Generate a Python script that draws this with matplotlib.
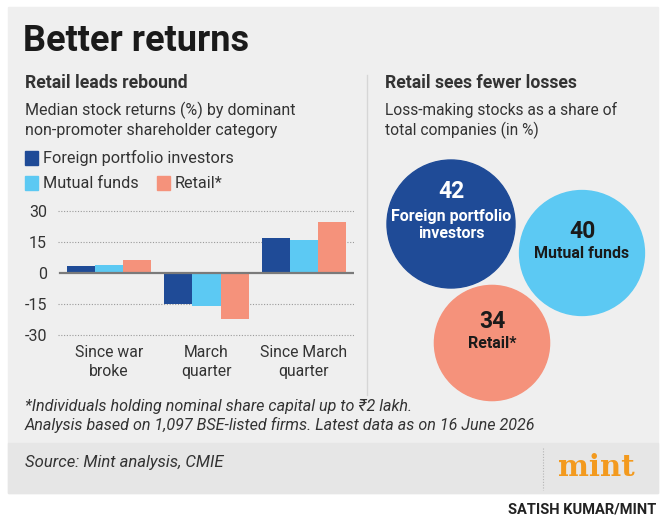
import matplotlib
matplotlib.use("Agg")
import matplotlib.pyplot as plt
import numpy as np
from matplotlib.patches import Rectangle, Circle

# bar chart data (median returns, %)
categories = ["Since war\nbroke", "March\nquarter", "Since March\nquarter"]
fpi_returns = [3.3, -14.8, 16.8]
mf_returns = [3.8, -16.0, 15.8]
retail_returns = [6.1, -22.2, 24.9]
series_names = ["Foreign portfolio investors", "Mutual funds", "Retail*"]
y_ticks = [-30, -15, 0, 15, 30]

# bubble data (loss-making stocks, % of companies)
loss_labels = ["Foreign portfolio\ninvestors", "Mutual funds", "Retail*"]
loss_share = [42, 40, 34]

DARK_BLUE = "#1f4b97"
LIGHT_BLUE = "#5cc9f3"
SALMON = "#f5927b"
TEXT = "#333333"

plt.rcParams['font.family'] = ['Roboto', 'DejaVu Sans']

W, H = 670, 526
fig = plt.figure(figsize=(W / 100, H / 100), dpi=100)
fig.patch.set_facecolor("white")

# background axes in pixel coords (y down)
bg = fig.add_axes([0, 0, 1, 1])
bg.set_xlim(0, W)
bg.set_ylim(H, 0)
bg.axis("off")

bg.add_patch(Rectangle((8, 7), 650, 486, color="#efefef", zorder=0))
bg.add_patch(Rectangle((8, 443), 650, 50, color="#e6e6e6", zorder=0))
bg.plot([367, 367], [75, 395], color="#d6d6d6", lw=1)
bg.plot([543, 543], [448, 490], color="#b5b5b5", lw=0.8, ls=(0, (1, 1.5)))

def txt(x, y, s, **kw):
    kw.setdefault("va", "center")
    kw.setdefault("color", TEXT)
    bg.text(x, y, s, **kw)

txt(23, 41, "Better returns", fontsize=26, weight="bold", color="#1a1a1a")
txt(25, 83, "Retail leads rebound", fontsize=12.7, weight="bold")
txt(25, 110, "Median stock returns (%) by dominant", fontsize=11.5)
txt(25, 130, "non-promoter shareholder category", fontsize=11.5)
txt(385, 83, "Retail sees fewer losses", fontsize=12.7, weight="bold")
txt(385, 110, "Loss-making stocks as a share of", fontsize=11.2)
txt(385, 130, "total companies (in %)", fontsize=11.2)

# legend
legend_pos = [(25, 158), (25, 183), (157, 183)]
for (lx, ly), name, c in zip(legend_pos, series_names, [DARK_BLUE, LIGHT_BLUE, SALMON]):
    bg.add_patch(Rectangle((lx, ly - 7), 13, 14, color=c))
    txt(lx + 18, ly, name, fontsize=11.7)

# footnotes
txt(25, 406, "*Individuals holding nominal share capital up to \u20b92 lakh.",
    fontsize=11.6, style="italic")
txt(25, 425, "Analysis based on 1,097 BSE-listed firms. Latest data as on 16 June 2026",
    fontsize=11.6, style="italic")
txt(25, 462, "Source: Mint analysis, CMIE", fontsize=12, style="italic")
txt(596, 467, "mint", fontsize=21, weight="bold", family="DejaVu Serif",
    color="#f39a1e", ha="center")
txt(656, 509, "SATISH KUMAR/MINT", fontsize=10.5, weight="bold", ha="right",
    color="#222222")

# bubbles, area proportional to value
k = 64 / np.sqrt(max(loss_share))
centers = [(451, 224), (582, 253), (492, 343)]
fills = [DARK_BLUE, LIGHT_BLUE, SALMON]
txt_colors = ["white", "#1a1a1a", "#1a1a1a"]
for (cx, cy), v, lab, fc, tc in zip(centers, loss_share, loss_labels, fills, txt_colors):
    bg.add_patch(Circle((cx, cy), k * np.sqrt(v), color=fc, zorder=2))
    nlines = lab.count("\n") + 1
    top = cy - 10 * nlines
    bg.text(cx, top - 12, str(v), ha="center", va="center", fontsize=16.5,
            weight="bold", color=tc, zorder=3)
    bg.text(cx, top + 10 * nlines + 1, lab, ha="center", va="center", fontsize=11.5,
            weight="bold", color=tc, linespacing=1.2, zorder=3)

# bar chart
ax = fig.add_axes([58 / W, 1 - 337.1 / H, 296 / W, 128.2 / H])
ax.patch.set_alpha(0)
x = np.arange(len(categories))
w = 0.29
ax.bar(x - w, fpi_returns, w, color=DARK_BLUE, zorder=2)
ax.bar(x, mf_returns, w, color=LIGHT_BLUE, zorder=2)
ax.bar(x + w, retail_returns, w, color=SALMON, zorder=2)
for t in y_ticks:
    if t != 0:
        ax.axhline(t, color="#9a9a9a", lw=0.8, ls=(0, (1, 1.5)), zorder=1)
ax.axhline(0, xmin=0.007, color="#7a7a7a", lw=1.6, zorder=3)
ax.set_xlim(-0.523, 2.513)
ax.set_ylim(-31, 31)
ax.set_yticks(y_ticks)
ax.set_yticklabels([str(t) for t in y_ticks], fontsize=11.5, color=TEXT)
ax.set_xticks(x)
ax.set_xticklabels(categories, fontsize=11.3, color=TEXT, linespacing=1.3)
ax.tick_params(length=0)
ax.tick_params(axis="y", pad=8)
ax.tick_params(axis="x", pad=6)
for s in ax.spines.values():
    s.set_visible(False)

fig.savefig("out.png", dpi=100)
